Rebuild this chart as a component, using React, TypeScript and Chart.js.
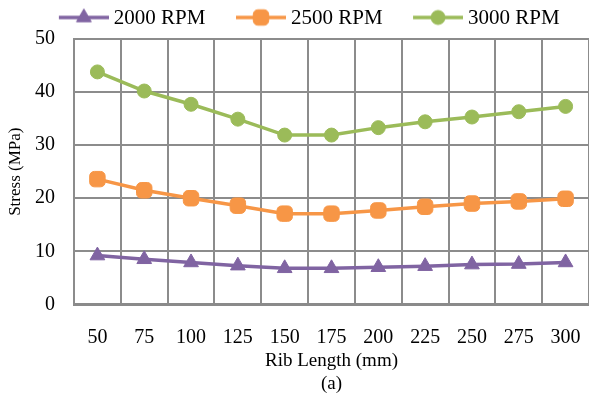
import React, { useEffect, useRef } from 'react';
import { Chart, registerables } from 'chart.js';
import { drawPoint } from 'chart.js/helpers';

Chart.register(...registerables);

const ribLengths = ['50', '75', '100', '125', '150', '175', '200', '225', '250', '275', '300'];
const stress2000 = [9.2, 8.5, 7.9, 7.3, 6.8, 6.8, 7.0, 7.2, 7.5, 7.6, 7.9];
const stress2500 = [23.6, 21.5, 20.0, 18.6, 17.1, 17.1, 17.7, 18.4, 19.0, 19.4, 19.9];
const stress3000 = [43.8, 40.2, 37.7, 34.9, 31.9, 31.9, 33.3, 34.4, 35.3, 36.3, 37.3];
const seriesNames = ['2000 RPM', '2500 RPM', '3000 RPM'];
const yTickValues = [0, 10, 20, 30, 40, 50];
const xTitle = ['Rib Length (mm)', '(a)'];
const yTitle = 'Stress (MPa)';

const FONT = 'Liberation Serif';
const GRID = '#8c8c8c';
const COLORS = ['#8064A2', '#F79646', '#9BBB59'];
const STYLES = ['triangle', 'rectRounded', 'circle'];
const RADII = [8.5, 9, 7];

export default function App() {
  const ref = useRef<HTMLCanvasElement>(null);

  useEffect(() => {
    if (!ref.current) return;

    const makeIcon = (color: string, style: string, radius: number) => {
      const c = document.createElement('canvas');
      c.width = 79;
      c.height = 22;
      const ctx = c.getContext('2d')!;
      ctx.strokeStyle = color;
      ctx.lineWidth = 3.5;
      ctx.beginPath();
      ctx.moveTo(29, 10);
      ctx.lineTo(79, 10);
      ctx.stroke();
      ctx.fillStyle = color;
      ctx.strokeStyle = color;
      ctx.lineWidth = 1;
      drawPoint(ctx, { pointStyle: style as any, radius, rotation: 0, borderWidth: 1 }, 54, 10);
      return c;
    };
    const icons = COLORS.map((c, i) => makeIcon(c, STYLES[i], RADII[i]));

    const legendShift = {
      id: 'legendShift',
      afterLayout(chart: any) {
        if (chart.legend) {
          chart.legend.left += 3;
          chart.legend.right += 3;
        }
      },
    };

    const seriesData = [stress2000, stress2500, stress3000];

    const chart = new Chart(ref.current, {
      type: 'line',
      data: {
        labels: ribLengths,
        datasets: seriesData.map((d, i) => ({
          label: seriesNames[i],
          data: d,
          borderColor: COLORS[i],
          backgroundColor: COLORS[i],
          borderWidth: 3.5,
          pointStyle: STYLES[i] as any,
          pointRadius: RADII[i],
          pointBackgroundColor: COLORS[i],
          pointBorderColor: COLORS[i],
          pointBorderWidth: 1,
          tension: 0,
          fill: false,
        })),
      },
      options: {
        responsive: false,
        animation: false,
        devicePixelRatio: 1,
        layout: { autoPadding: false, padding: { top: 1, left: 0, right: 0, bottom: 0 } },
        plugins: {
          legend: {
            display: true,
            position: 'top',
            align: 'center',
            labels: {
              usePointStyle: true,
              pointStyleWidth: 68,
              padding: 7,
              color: '#000',
              font: { family: FONT, size: 21 },
              generateLabels: (ch: any) => {
                const items = (Chart.defaults.plugins.legend.labels as any).generateLabels(ch);
                items.forEach((it: any, i: number) => {
                  it.pointStyle = icons[i];
                });
                return items;
              },
            },
          },
          tooltip: { enabled: false },
        },
        scales: {
          x: {
            type: 'category',
            offset: true,
            afterFit: (scale: any) => {
              scale.paddingLeft = 0;
              scale.paddingRight = 0;
            },
            grid: {
              offset: true,
              color: GRID,
              lineWidth: 2,
              drawTicks: true,
              tickLength: 21,
              tickColor: 'rgba(0,0,0,0)',
            },
            border: { display: true, color: '#8a8a8a', width: 3 },
            ticks: {
              padding: 0,
              color: '#000',
              font: { family: FONT, size: 20 },
              maxRotation: 0,
              autoSkip: false,
            },
            title: {
              display: true,
              text: xTitle,
              color: '#000',
              font: { family: FONT, size: 19 },
              padding: { top: 0, bottom: 3 },
            },
          },
          y: {
            min: 0,
            max: 50,
            afterBuildTicks: (scale: any) => {
              scale.ticks = yTickValues.map((v) => ({ value: v }));
            },
            grid: {
              color: GRID,
              lineWidth: 2,
              drawTicks: true,
              tickLength: 19,
              tickColor: 'rgba(0,0,0,0)',
            },
            border: { display: true, color: GRID, width: 2 },
            ticks: {
              padding: 0,
              color: '#000',
              font: { family: FONT, size: 20 },
            },
            title: {
              display: true,
              text: yTitle,
              color: '#000',
              font: { family: FONT, size: 17 },
              padding: { top: 5, bottom: 9.6 },
            },
          },
        },
      },
      plugins: [legendShift],
    } as any);

    return () => chart.destroy();
  }, []);

  return (
    <div style={{ position: 'absolute', left: 0, top: 0, width: 589, height: 398, background: '#fff' }}>
      <canvas ref={ref} width={589} height={398} style={{ display: 'block' }} />
    </div>
  );
}
